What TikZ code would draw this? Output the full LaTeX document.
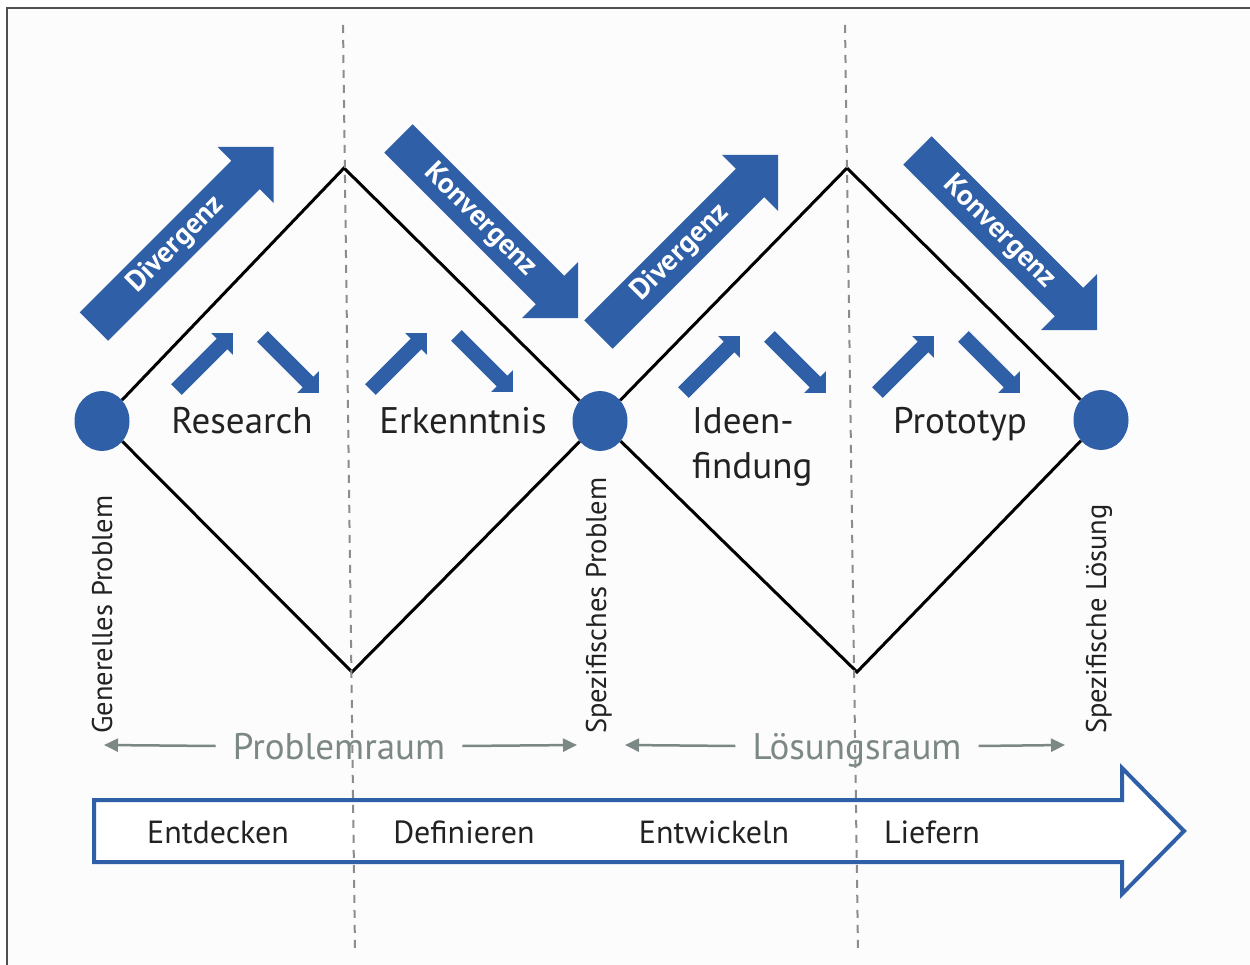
\documentclass[tikz,border=0pt]{standalone}
\usepackage{fontspec}
\setmainfont{PT Sans}
\usetikzlibrary{arrows.meta,shapes.geometric}
\definecolor{dtblue}{HTML}{2F5FA7}
\definecolor{dtgray}{HTML}{7C8885}
\definecolor{dashgray}{HTML}{8C8C8C}
\definecolor{framegray}{HTML}{505050}
\definecolor{bgc}{HTML}{FCFCFC}
\definecolor{txt}{HTML}{222222}
\begin{document}
\begin{tikzpicture}[x=1pt,y=-1pt,
  arrowtext/.style={text=white, font=\fontsize{29}{31}\selectfont\bfseries, inner sep=0pt},
  bigarrow/.pic={
    \fill[dtblue] (0,-20) -- (214.5,-20) -- (214.5,-39.5) -- (254,0) -- (214.5,39.5) -- (214.5,20) -- (0,20) -- cycle;
    \node[arrowtext, transform shape] (-t) at (116,0) {#1};
  },
  smallarrow/.pic={
    \fill[dtblue] (0,-7.5) -- (64.5,-7.5) -- (64.5,-15.5) -- (80,0) -- (64.5,15.5) -- (64.5,7.5) -- (0,7.5) -- cycle;
  },
  dot/.style={ellipse, fill=dtblue, minimum width=55pt, minimum height=60pt, inner sep=0pt},
  diam/.style={draw=black, line width=3pt, line join=miter},
  lbl/.style={text=txt, font=\fontsize{37}{40}\selectfont, inner sep=0pt},
  phase/.style={text=txt, font=\fontsize{32}{36}\selectfont, inner sep=0pt, anchor=base},
  vlabel/.style={text=txt, font=\fontsize{28.5}{31}\selectfont, inner sep=0pt, rotate=90, anchor=base west},
  space/.style={text=dtgray, font=\fontsize{37}{40}\selectfont, inner ysep=0pt, inner xsep=17pt, text height=26pt, text depth=0pt},
  grayarr/.style={draw=dtgray, line width=2.5pt, -{Triangle[length=14pt,width=13pt]}},
  vdash/.style={draw=dashgray, line width=2pt, dash pattern=on 8pt off 7pt},
  flow/.style={draw=dtblue, line width=4pt, line join=miter, fill=white}
]
\useasboundingbox (0,0) rectangle (1250,965);
\fill[white] (0,0) rectangle (1250,965);
\fill[bgc] (7,8) rectangle (1250,965);
\draw[framegray, line width=2pt] (1250,8) -- (7,8) -- (7,965);

% diamond vertices
\coordinate (t1) at (344,168);
\coordinate (b1) at (352,672);
\coordinate (t2) at (847,168);
\coordinate (b2) at (857,672);

% circles
\node[dot] (c1) at (102,421) {};
\node[dot] (c2) at (600,421) {};
\node[dot] (c3) at (1101,420) {};

\draw[diam] (c1) -- (t1) -- (c2) -- (b1) -- (c1);
\draw[diam] (c2) -- (t2) -- (c3) -- (b2) -- (c2);

% big arrows
\pic[rotate=45] (d1) at (93.9,326.6) {bigarrow=Divergenz};
\pic[rotate=-45] (k1) at (398.4,138.4) {bigarrow=Konvergenz};
\pic[rotate=45] (d2) at (598.4,334.6) {bigarrow=Divergenz};
\pic[rotate=-45] (k2) at (917.4,150.4) {bigarrow=Konvergenz};

% small arrows
\pic[rotate=45] at (176.4,389.6) {smallarrow};
\pic[rotate=-45] at (262.4,336.4) {smallarrow};
\pic[rotate=45] at (370.4,389.6) {smallarrow};
\pic[rotate=-45] at (456.4,335.4) {smallarrow};
\pic[rotate=45] at (683.4,392.6) {smallarrow};
\pic[rotate=-45] at (769.4,336.4) {smallarrow};
\pic[rotate=45] at (877.4,392.6) {smallarrow};
\pic[rotate=-45] at (963.4,336.4) {smallarrow};

% labels
\node[lbl, anchor=base] (res) at (242,433) {Research};
\node[lbl, anchor=base] (erk) at (463,433) {Erkenntnis};
\node[lbl, anchor=base west] (ide1) at (692,433) {Ideen-};
\node[lbl, anchor=base west] (ide2) at (692,478) {findung};
\node[lbl, anchor=base] (pro) at (960,433) {Prototyp};

\node[vlabel] (gp) at (112,734) {Generelles Problem};
\node[vlabel] (sp) at (606,734) {Spezifisches Problem};
\node[vlabel] (sl) at (1106,734) {Spezifische Lösung};

% spaces
\node[space] (praum) at (339,746) {Problemraum};
\node[space] (lraum) at (857,746) {Lösungsraum};
\coordinate (pl) at (104,745);
\coordinate (pr) at (577,745);
\coordinate (ll) at (625,745);
\coordinate (lr) at (1065,745);
\draw[grayarr] (praum.west) -- (pl);
\draw[grayarr] (praum.east) -- (pr);
\draw[grayarr] (lraum.west) -- (ll);
\draw[grayarr] (lraum.east) -- (lr);

% bottom flow arrow
\draw[flow] (94,800) -- (1122,800) -- (1122,768) -- (1184,831) -- (1122,894) -- (1122,862) -- (94,862) -- cycle;
\node[phase] (p1) at (218,843) {Entdecken};
\node[phase] (p2) at (464,843) {Definieren};
\node[phase] (p3) at (714,843) {Entwickeln};
\node[phase] (p4) at (932,843) {Liefern};

% dashed separators
\draw[vdash] (343,25) -- (355,950);
\draw[vdash] (845,25) -- (858,950);
\end{tikzpicture}
\end{document}
